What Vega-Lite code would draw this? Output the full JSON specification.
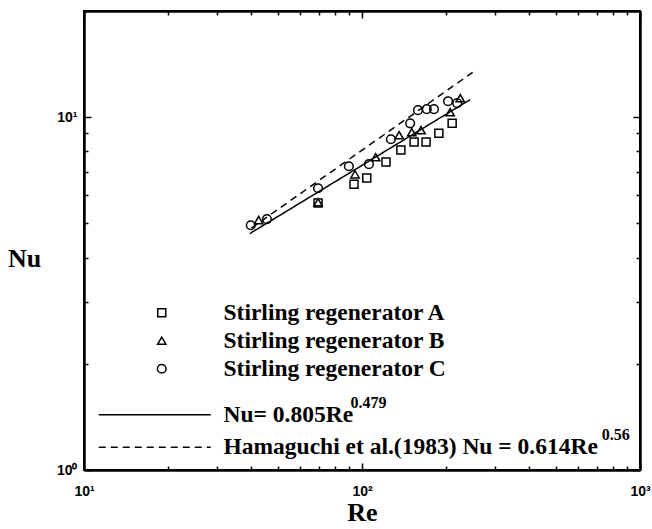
{
  "$schema": "https://vega.github.io/schema/vega-lite/v6.json",
  "width": 556,
  "height": 459,
  "autosize": {"type": "none"},
  "padding": {"left": 84, "top": 11, "right": 12, "bottom": 59},
  "background": "white",
  "config": {
    "view": {"stroke": "black", "strokeWidth": 2},
    "axis": {"domainColor": "black", "domainWidth": 2, "tickColor": "black", "tickWidth": 1.5, "grid": false, "labelColor": "black", "titleColor": "black", "labelFlush": false, "labelOverlap": false}
  },
  "datasets": {
    "pts": [
      {"series": "Stirling regenerator A", "Re": 69.5, "Nu": 5.71},
      {"series": "Stirling regenerator A", "Re": 93.6, "Nu": 6.46},
      {"series": "Stirling regenerator A", "Re": 104, "Nu": 6.72},
      {"series": "Stirling regenerator A", "Re": 122, "Nu": 7.46},
      {"series": "Stirling regenerator A", "Re": 138, "Nu": 8.07},
      {"series": "Stirling regenerator A", "Re": 154, "Nu": 8.5},
      {"series": "Stirling regenerator A", "Re": 170, "Nu": 8.5},
      {"series": "Stirling regenerator A", "Re": 189, "Nu": 9.01},
      {"series": "Stirling regenerator A", "Re": 211, "Nu": 9.61},
      {"series": "Stirling regenerator B", "Re": 42.5, "Nu": 5.11},
      {"series": "Stirling regenerator B", "Re": 69.5, "Nu": 5.74},
      {"series": "Stirling regenerator B", "Re": 94.4, "Nu": 6.89},
      {"series": "Stirling regenerator B", "Re": 112, "Nu": 7.7},
      {"series": "Stirling regenerator B", "Re": 136, "Nu": 8.89},
      {"series": "Stirling regenerator B", "Re": 151, "Nu": 9.07},
      {"series": "Stirling regenerator B", "Re": 163, "Nu": 9.19},
      {"series": "Stirling regenerator B", "Re": 207.5, "Nu": 10.33},
      {"series": "Stirling regenerator B", "Re": 225.6, "Nu": 11.32},
      {"series": "Stirling regenerator C", "Re": 39.8, "Nu": 4.94},
      {"series": "Stirling regenerator C", "Re": 45.5, "Nu": 5.14},
      {"series": "Stirling regenerator C", "Re": 69.5, "Nu": 6.29},
      {"series": "Stirling regenerator C", "Re": 89.7, "Nu": 7.26},
      {"series": "Stirling regenerator C", "Re": 105.9, "Nu": 7.36},
      {"series": "Stirling regenerator C", "Re": 127, "Nu": 8.66},
      {"series": "Stirling regenerator C", "Re": 149, "Nu": 9.61},
      {"series": "Stirling regenerator C", "Re": 159, "Nu": 10.47},
      {"series": "Stirling regenerator C", "Re": 171, "Nu": 10.54},
      {"series": "Stirling regenerator C", "Re": 181.5, "Nu": 10.54},
      {"series": "Stirling regenerator C", "Re": 204, "Nu": 11.1},
      {"series": "Stirling regenerator C", "Re": 220, "Nu": 10.96}
    ],
    "fits": [
      {"series": "Nu= 0.805Re", "Re": 39.5, "Nu": 4.68},
      {"series": "Nu= 0.805Re", "Re": 245, "Nu": 11.22},
      {"series": "Hamaguchi et al.(1983) Nu = 0.614Re", "Re": 40, "Nu": 4.85},
      {"series": "Hamaguchi et al.(1983) Nu = 0.614Re", "Re": 250, "Nu": 13.4}
    ],
    "one": [{}]
  },
  "layer": [
    {
      "data": {"name": "fits"},
      "mark": {"type": "line", "color": "black", "strokeWidth": 1.5},
      "encoding": {
        "x": {"field": "Re", "type": "quantitative", "scale": {"type": "log", "domain": [10, 1000], "nice": false},
          "axis": {"orient": "bottom", "values": [20, 30, 40, 50, 60, 70, 80, 90, 200, 300, 400, 500, 600, 700, 800, 900], "tickSize": -4, "labels": false, "title": null}},
        "y": {"field": "Nu", "type": "quantitative", "scale": {"type": "log", "domain": [1, 20], "nice": false},
          "axis": {"orient": "left", "values": [2, 3, 4, 5, 6, 7, 8, 9], "tickSize": -4, "labels": false, "title": null}},
        "strokeDash": {"field": "series", "type": "nominal",
          "scale": {"domain": ["Nu= 0.805Re", "Hamaguchi et al.(1983) Nu = 0.614Re"], "range": [[1, 0], [7, 5]]},
          "legend": {"orient": "none", "legendX": 59, "legendY": 392, "title": null, "padding": 0,
            "symbolType": "M-8,0L8,0", "symbolSize": 196,
            "labelFont": "Liberation Serif", "labelFontWeight": "bold", "labelFontSize": 23.5, "labelColor": "black",
            "labelOffset": 57, "labelLimit": 600, "symbolStrokeWidth": 1.5, "symbolStrokeColor": "black", "symbolFillColor": "transparent", "rowPadding": 7.5}}
      }
    },
    {
      "data": {"name": "pts"},
      "mark": {"type": "point", "filled": false, "color": "black", "strokeWidth": 1.5, "opacity": 1},
      "encoding": {
        "x": {"field": "Re", "type": "quantitative", "scale": {"type": "log", "domain": [10, 1000], "nice": false},
          "axis": {"orient": "bottom", "values": [10, 100, 1000], "tickSize": -7, "labelPadding": 21,
            "labelExpr": "datum.value == 10 ? '10¹' : datum.value == 100 ? '10²' : '10³'",
            "labelFont": "Liberation Sans", "labelFontWeight": "bold", "labelFontSize": 14,
            "title": "Re", "titleFont": "Liberation Serif", "titleFontWeight": "bold", "titleFontSize": 26, "titleBaseline": "middle", "titleY": 42}},
        "y": {"field": "Nu", "type": "quantitative", "scale": {"type": "log", "domain": [1, 20], "nice": false},
          "axis": {"orient": "left", "values": [1, 10], "tickSize": -7, "labelPadding": 14,
            "labelExpr": "datum.value == 1 ? '10⁰' : '10¹'",
            "labelFont": "Liberation Sans", "labelFontWeight": "bold", "labelFontSize": 14,
            "title": "Nu", "titleFont": "Liberation Serif", "titleFontWeight": "bold", "titleFontSize": 26, "titleAngle": 0,
            "titleAlign": "center", "titleBaseline": "middle", "titleX": -60, "titleY": 247}},
        "shape": {"field": "series", "type": "nominal",
          "scale": {"domain": ["Stirling regenerator A", "Stirling regenerator B", "Stirling regenerator C"], "range": ["square", "triangle-up", "circle"]},
          "legend": {"orient": "none", "legendX": 66, "legendY": 290, "title": null, "padding": 0,
            "labelFont": "Liberation Serif", "labelFontWeight": "bold", "labelFontSize": 23.5, "labelColor": "black",
            "labelOffset": 50, "labelLimit": 600, "symbolStrokeWidth": 1.5, "symbolStrokeColor": "black", "symbolFillColor": "transparent", "rowPadding": 3}},
        "size": {"field": "series", "type": "nominal",
          "scale": {"domain": ["Stirling regenerator A", "Stirling regenerator B", "Stirling regenerator C"], "range": [64, 75, 114]},
          "legend": {"orient": "none", "legendX": 66, "legendY": 290, "title": null, "padding": 0,
            "labelFont": "Liberation Serif", "labelFontWeight": "bold", "labelFontSize": 23.5, "labelColor": "black",
            "labelOffset": 50, "labelLimit": 600, "symbolStrokeWidth": 1.5, "symbolStrokeColor": "black", "symbolFillColor": "transparent", "rowPadding": 3}}
      }
    },
    {
      "data": {"name": "one"},
      "mark": {"type": "text", "font": "Liberation Serif", "fontWeight": "bold", "fontSize": 16, "align": "left", "baseline": "middle", "color": "black", "text": "0.479"},
      "encoding": {
        "x": {"datum": 91, "type": "quantitative", "axis": null},
        "y": {"datum": 1.548, "type": "quantitative", "axis": null}
      }
    },
    {
      "data": {"name": "one"},
      "mark": {"type": "text", "font": "Liberation Serif", "fontWeight": "bold", "fontSize": 16, "align": "left", "baseline": "middle", "color": "black", "text": "0.56"},
      "encoding": {
        "x": {"datum": 728, "type": "quantitative", "axis": null},
        "y": {"datum": 1.256, "type": "quantitative", "axis": null}
      }
    },
    {
      "data": {"name": "fits"},
      "mark": {"type": "line", "opacity": 0},
      "encoding": {
        "x": {"field": "Re", "type": "quantitative", "axis": {"orient": "top", "values": [10, 100, 1000], "tickSize": -7, "labels": false, "title": null}},
        "y": {"field": "Nu", "type": "quantitative", "axis": {"orient": "right", "values": [1, 10], "tickSize": -7, "labels": false, "title": null}}
      }
    },
    {
      "data": {"name": "fits"},
      "mark": {"type": "line", "opacity": 0},
      "encoding": {
        "x": {"field": "Re", "type": "quantitative", "axis": {"orient": "top", "values": [20, 30, 40, 50, 60, 70, 80, 90, 200, 300, 400, 500, 600, 700, 800, 900], "tickSize": -4, "labels": false, "title": null}},
        "y": {"field": "Nu", "type": "quantitative", "axis": {"orient": "right", "values": [2, 3, 4, 5, 6, 7, 8, 9], "tickSize": -4, "labels": false, "title": null}}
      }
    }
  ],
  "resolve": {"axis": {"x": "independent", "y": "independent"}}
}
